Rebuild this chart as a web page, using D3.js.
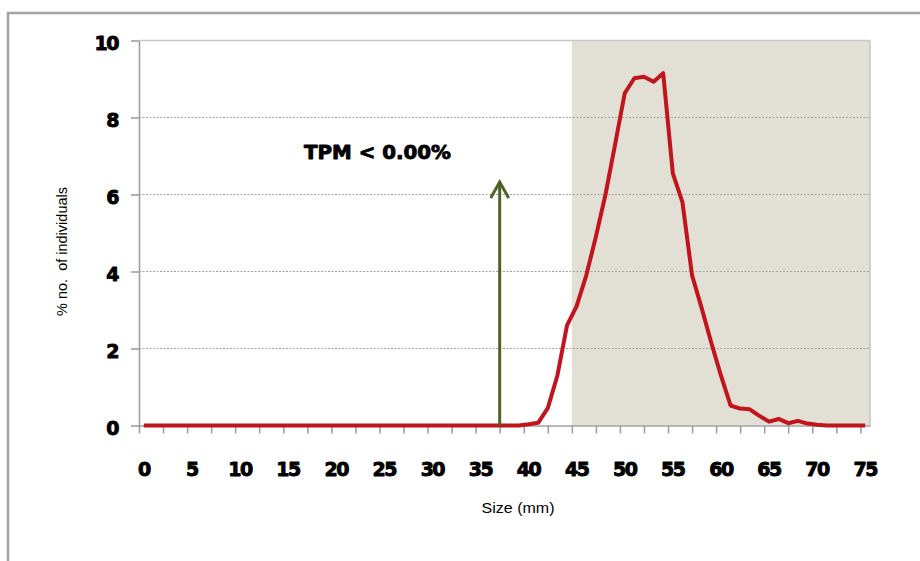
<!DOCTYPE html>
<html>
<head>
<meta charset="utf-8">
<script src="https://cdn.jsdelivr.net/npm/d3@7"></script>
<style>
  html, body { margin: 0; padding: 0; background: #fff; }
  svg { display: block; }
</style>
</head>
<body>
<svg id="chart" width="920" height="561"></svg>
<script>
// ---- data ----
const sizes = [0,1,2,3,4,5,6,7,8,9,10,11,12,13,14,15,16,17,18,19,20,21,22,23,24,25,26,27,28,29,
  30,31,32,33,34,35,36,37,38,39,40,41,42,43,44,45,46,47,48,49,50,51,52,53,54,55,56,57,58,59,
  60,61,62,63,64,65,66,67,68,69,70,71,72,73,74,75];
const percent = [0,0,0,0,0,0,0,0,0,0,0,0,0,0,0,0,0,0,0,0,0,0,0,0,0,0,0,0,0,0,
  0,0,0,0,0,0,0,0,0,0,0.03,0.07,0.45,1.3,2.6,3.1,3.9,4.9,6.0,7.3,8.63,9.02,9.06,8.93,9.15,6.55,5.8,3.9,3.05,2.15,
  1.3,0.52,0.44,0.42,0.25,0.1,0.17,0.06,0.12,0.05,0.02,0,0,0,0,0];
const xTickLabels = ["0","5","10","15","20","25","30","35","40","45","50","55","60","65","70","75"];
const yTickValues = [0,2,4,6,8,10];
const shadeRange = [44.5, 75.5];
const arrowSize = 37;
const arrowTop = 6.35;
const annotation = "TPM < 0.00%";
const xTitle = "Size (mm)";
const yTitle = "% no.\u00a0 of individuals";

// ---- scales ----
const svg = d3.select("#chart");
const x = d3.scaleLinear().domain([-0.5, 75.5]).range([139, 870]);
const y = d3.scaleLinear().domain([0, 10]).range([425.5, 40.5]);

// outer frame
svg.append("path")
  .attr("d", "M8,561V13H920")
  .attr("fill", "none").attr("stroke", "#a3a3a3").attr("stroke-width", 2.5);

// shaded region
svg.append("rect")
  .attr("x", x(shadeRange[0])).attr("y", y(10))
  .attr("width", x(shadeRange[1]) - x(shadeRange[0]))
  .attr("height", y(0) - y(10))
  .attr("fill", "#e2dfd5");

// plot right border
svg.append("line")
  .attr("x1", x(75.5)).attr("x2", x(75.5)).attr("y1", y(10)).attr("y2", y(0))
  .attr("stroke", "#c4c4c4").attr("stroke-width", 1.5);

// gridlines
svg.append("g").selectAll("line").data(yTickValues.filter(v => v > 0)).join("line")
  .attr("x1", x(-0.5)).attr("x2", x(75.5))
  .attr("y1", d => y(d)).attr("y2", d => y(d))
  .attr("stroke", d => d === 10 ? "#c8c8c8" : "#a5a5a5")
  .attr("stroke-width", d => d === 10 ? 1.5 : 1.2)
  .attr("stroke-dasharray", d => d === 10 ? null : "2,1.5");

// y axis
const yAxis = svg.append("g").attr("transform", `translate(${x(-0.5)},0)`)
  .call(d3.axisLeft(y).tickValues(yTickValues).tickSize(8).tickFormat("").tickSizeOuter(0));
yAxis.select(".domain").attr("stroke", "#a0a0a0").attr("stroke-width", 1.6);
yAxis.selectAll(".tick line").attr("stroke", "#a0a0a0").attr("stroke-width", 1.6);

const heavy = sel => sel
  .attr("font-family", "DejaVu Sans").attr("font-weight", "bold").attr("font-size", 19)
  .attr("fill", "#000").attr("stroke", "#000").attr("stroke-width", 0.9)
  .attr("stroke-linejoin", "round");

svg.append("g").selectAll("text").data(yTickValues).join("text")
  .attr("x", 118).attr("y", d => y(d) + 9)
  .attr("text-anchor", "end")
  .attr("letter-spacing", -1.5)
  .call(heavy)
  .text(d => d);

// x axis ticks
const xTickPositions = d3.range(0, 31).map(k => -0.5 + 2.5 * k);
const xAxis = svg.append("g").attr("transform", `translate(0,${y(0)})`)
  .call(d3.axisBottom(x).tickValues(xTickPositions).tickSize(8).tickFormat("").tickSizeOuter(0));
xAxis.select(".domain").attr("stroke", "#a0a0a0").attr("stroke-width", 1.6);
xAxis.selectAll(".tick line").attr("stroke", "#a0a0a0").attr("stroke-width", 1.6);

svg.append("g").selectAll("text").data(xTickLabels).join("text")
  .attr("x", d => x(+d)).attr("y", 476)
  .attr("text-anchor", "middle")
  .attr("letter-spacing", -1.5)
  .call(heavy)
  .text(d => d);

// data line
const line = d3.line().x((d, i) => x(sizes[i])).y(d => y(d));
svg.append("path")
  .datum(percent)
  .attr("d", line)
  .attr("fill", "none").attr("stroke", "#c1141c").attr("stroke-width", 4)
  .attr("stroke-linejoin", "round");

// arrow
const ax = x(arrowSize), ay = y(arrowTop);
const arrowG = svg.append("g").attr("stroke", "#4f6228").attr("stroke-width", 3).attr("fill", "none");
arrowG.append("line").attr("x1", ax).attr("x2", ax).attr("y1", y(0)).attr("y2", ay + 1);
arrowG.append("path").attr("d", `M${ax - 9},${ay + 17}L${ax},${ay + 1}L${ax + 9},${ay + 17}`)
  .attr("stroke-linejoin", "miter");

// annotation
svg.append("text")
  .attr("x", 304).attr("y", 159)
  .attr("textLength", 147).attr("lengthAdjust", "spacingAndGlyphs")
  .call(heavy)
  .attr("font-size", 20)
  .text(annotation);

// axis titles
svg.append("text")
  .attr("x", 518).attr("y", 513)
  .attr("text-anchor", "middle")
  .attr("font-family", "Liberation Sans").attr("font-size", 15)
  .attr("textLength", 73).attr("lengthAdjust", "spacingAndGlyphs")
  .attr("fill", "#000")
  .text(xTitle);

svg.append("text")
  .attr("transform", "translate(66.5,251.5) rotate(-90)")
  .attr("text-anchor", "middle")
  .attr("font-family", "Liberation Sans").attr("font-size", 14.5)
  .attr("fill", "#000")
  .text(yTitle);
</script>
</body>
</html>
